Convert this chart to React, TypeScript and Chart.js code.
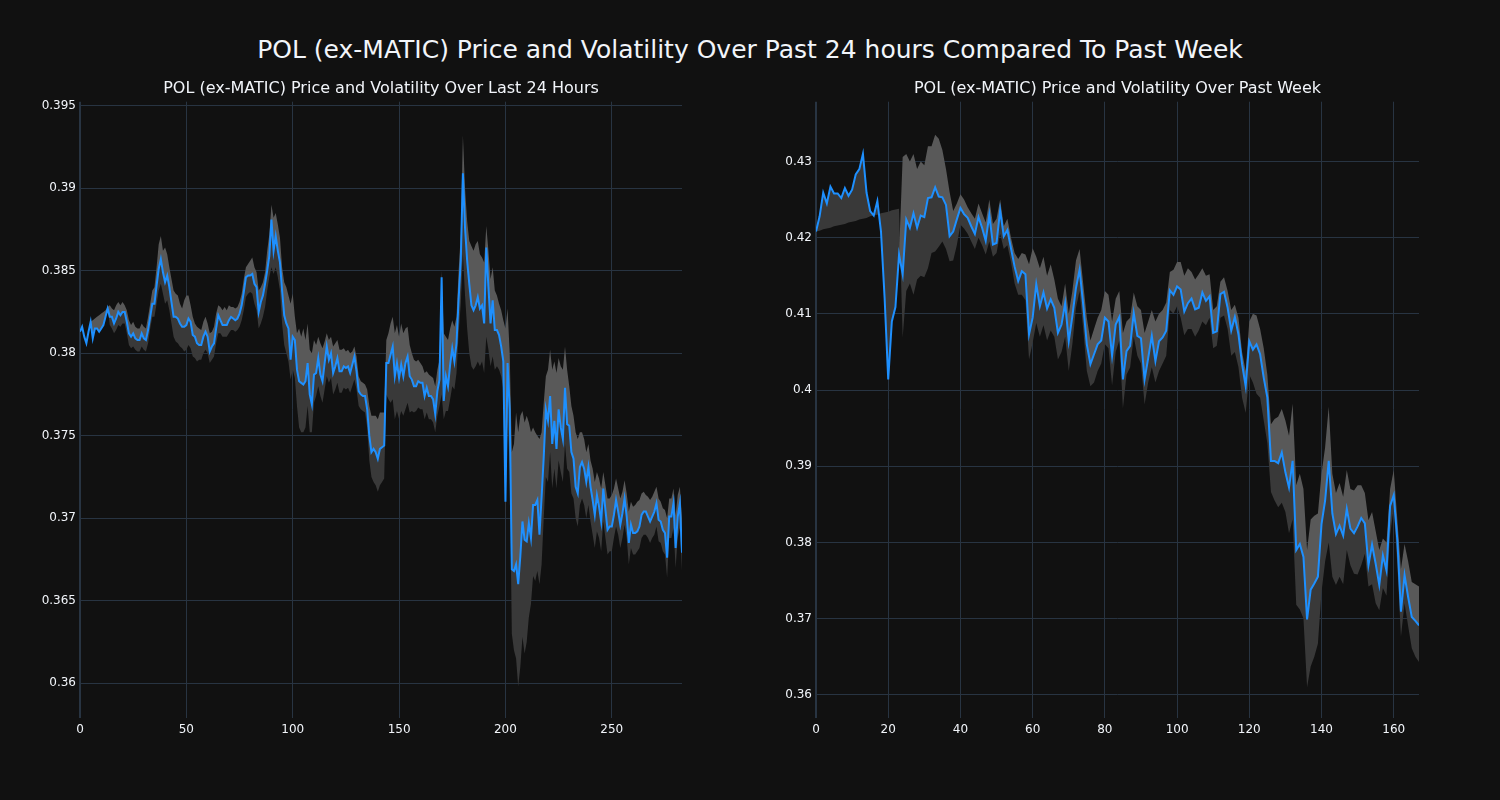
import { useEffect, useRef } from 'react';
import { Chart, registerables } from 'chart.js';
Chart.register(...registerables);

const FONT = '"DejaVu Sans", sans-serif';
const BG = '#111111';
const GRID = '#283442';
const TEXT = '#f2f5fa';
const LINE = '#1e90ff';
const FILL_UP = '#595959';
const FILL_DOWN = '#393939';

const mainTitle = 'POL (ex-MATIC) Price and Volatility Over Past 24 hours Compared To Past Week';
const title24 = 'POL (ex-MATIC) Price and Volatility Over Last 24 Hours';
const titleWeek = 'POL (ex-MATIC) Price and Volatility Over Past Week';

const price24 = [
  0.3813,0.3816,0.3810,0.3806,0.3813,0.3819,0.3809,0.3815,0.3815,0.3813,
  0.3815,0.3817,0.3822,0.3827,0.3822,0.3822,0.3818,0.3821,0.3825,0.3823,
  0.3825,0.3825,0.3819,0.3812,0.3810,0.3812,0.3809,0.3808,0.3808,0.3812,
  0.3809,0.3808,0.3814,0.3822,0.3830,0.3830,0.3841,0.3851,0.3857,0.3849,
  0.3843,0.3847,0.3840,0.3831,0.3822,0.3822,0.3821,0.3818,0.3816,0.3816,
  0.3817,0.3821,0.3819,0.3811,0.3810,0.3806,0.3805,0.3805,0.3810,0.3813,
  0.3810,0.3801,0.3804,0.3806,0.3815,0.3823,0.3820,0.3817,0.3817,0.3817,
  0.3820,0.3822,0.3821,0.3820,0.3821,0.3824,0.3829,0.3837,0.3846,0.3847,
  0.3847,0.3848,0.3842,0.3840,0.3825,0.3831,0.3835,0.3842,0.3850,0.3859,
  0.3881,0.3862,0.3871,0.3862,0.3855,0.3838,0.3823,0.3818,0.3815,0.3796,
  0.3810,0.3808,0.3790,0.3783,0.3782,0.3781,0.3783,0.3794,0.3775,0.3769,
  0.3787,0.3788,0.3797,0.3787,0.3783,0.3794,0.3804,0.3796,0.3800,0.3788,
  0.3792,0.3797,0.3789,0.3789,0.3792,0.3791,0.3792,0.3788,0.3793,0.3798,
  0.3789,0.3777,0.3775,0.3774,0.3774,0.3766,0.3750,0.3740,0.3742,0.3740,
  0.3736,0.3742,0.3743,0.3744,0.3794,0.3794,0.3799,0.3804,0.3786,0.3794,
  0.3785,0.3793,0.3786,0.3794,0.3798,0.3786,0.3784,0.3780,0.3780,0.3783,
  0.3782,0.3782,0.3774,0.3779,0.3774,0.3774,0.3772,0.3763,0.3777,0.3784,
  0.3846,0.3771,0.3786,0.3780,0.3793,0.3803,0.3795,0.3806,0.3833,0.3856,
  0.3909,0.3876,0.3856,0.3842,0.3829,0.3826,0.3829,0.3834,0.3827,0.3829,
  0.3818,0.3864,0.3840,0.3818,0.3832,0.3814,0.3814,0.3811,0.3804,0.3795,
  0.3710,0.3794,0.3766,0.3669,0.3668,0.3672,0.3660,0.3677,0.3698,0.3687,
  0.3686,0.3697,0.3688,0.3708,0.3708,0.3711,0.3690,0.3713,0.3737,0.3766,
  0.3759,0.3774,0.3745,0.3759,0.3742,0.3766,0.3755,0.3748,0.3779,0.3757,
  0.3756,0.3740,0.3736,0.3719,0.3715,0.3731,0.3734,0.3730,0.3722,0.3731,
  0.3719,0.3711,0.3702,0.3714,0.3707,0.3698,0.3718,0.3705,0.3693,0.3695,
  0.3695,0.3702,0.3711,0.3704,0.3696,0.3703,0.3712,0.3701,0.3685,0.3696,
  0.3691,0.3691,0.3692,0.3695,0.3702,0.3704,0.3704,0.3701,0.3698,0.3701,
  0.3704,0.3709,0.3699,0.3698,0.3693,0.3691,0.3676,0.3701,0.3701,0.3709,
  0.3682,0.3701,0.3709,0.3679,
];

const upper24 = [
  0.3813,0.3816,0.3810,0.3806,0.3813,0.3819,0.3820,0.3821,0.3822,0.3823,
  0.3824,0.3825,0.3826,0.3828,0.3829,0.3827,0.3826,0.3829,0.3831,0.3829,
  0.3831,0.3829,0.3826,0.3820,0.3817,0.3819,0.3816,0.3815,0.3815,0.3818,
  0.3816,0.3815,0.3822,0.3830,0.3838,0.3840,0.3852,0.3866,0.3871,0.3862,
  0.3864,0.3860,0.3852,0.3845,0.3838,0.3836,0.3835,0.3830,0.3827,0.3832,
  0.3835,0.3835,0.3829,0.3822,0.3818,0.3816,0.3815,0.3814,0.3819,0.3822,
  0.3818,0.3812,0.3813,0.3816,0.3824,0.3829,0.3828,0.3826,0.3828,0.3826,
  0.3829,0.3828,0.3828,0.3827,0.3828,0.3831,0.3836,0.3845,0.3852,0.3854,
  0.3856,0.3858,0.3852,0.3849,0.3838,0.3840,0.3843,0.3849,0.3862,0.3872,
  0.3890,0.3882,0.3885,0.3878,0.3870,0.3852,0.3843,0.3840,0.3835,0.3830,
  0.3836,0.3822,0.3812,0.3815,0.3810,0.3815,0.3808,0.3818,0.3802,0.3800,
  0.3808,0.3805,0.3810,0.3806,0.3803,0.3807,0.3812,0.3808,0.3810,0.3804,
  0.3806,0.3808,0.3802,0.3802,0.3803,0.3801,0.3802,0.3800,0.3801,0.3804,
  0.3798,0.3786,0.3783,0.3782,0.3781,0.3778,0.3768,0.3762,0.3762,0.3762,
  0.3760,0.3764,0.3764,0.3764,0.3808,0.3812,0.3818,0.3822,0.3812,0.3817,
  0.3810,0.3818,0.3812,0.3815,0.3816,0.3805,0.3800,0.3796,0.3795,0.3796,
  0.3794,0.3792,0.3788,0.3789,0.3787,0.3786,0.3785,0.3780,0.3790,0.3796,
  0.3850,0.3812,0.3810,0.3808,0.3815,0.3820,0.3816,0.3822,0.3850,0.3872,
  0.3932,0.3900,0.3880,0.3868,0.3865,0.3862,0.3866,0.3868,0.3860,0.3858,
  0.3855,0.3877,0.3862,0.3845,0.3852,0.3838,0.3835,0.3830,0.3826,0.3820,
  0.3815,0.3827,0.3800,0.3740,0.3745,0.3764,0.3752,0.3762,0.3765,0.3758,
  0.3762,0.3758,0.3752,0.3755,0.3752,0.3750,0.3748,0.3752,0.3770,0.3786,
  0.3790,0.3802,0.3790,0.3795,0.3788,0.3797,0.3792,0.3790,0.3804,0.3790,
  0.3780,0.3768,0.3762,0.3752,0.3748,0.3752,0.3752,0.3748,0.3740,0.3745,
  0.3735,0.3730,0.3722,0.3728,0.3724,0.3718,0.3728,0.3720,0.3712,0.3712,
  0.3714,0.3718,0.3724,0.3718,0.3712,0.3716,0.3723,0.3715,0.3704,0.3710,
  0.3707,0.3708,0.3710,0.3711,0.3715,0.3716,0.3714,0.3713,0.3711,0.3713,
  0.3716,0.3719,0.3712,0.3710,0.3706,0.3705,0.3700,0.3712,0.3712,0.3718,
  0.3702,0.3714,0.3719,0.3700,
];

const lower24 = [
  0.3813,0.3816,0.3810,0.3806,0.3813,0.3819,0.3809,0.3815,0.3815,0.3813,
  0.3815,0.3817,0.3822,0.3827,0.3817,0.3815,0.3812,0.3814,0.3817,0.3816,
  0.3818,0.3818,0.3812,0.3805,0.3803,0.3804,0.3802,0.3801,0.3801,0.3804,
  0.3802,0.3801,0.3806,0.3815,0.3822,0.3822,0.3830,0.3838,0.3842,0.3836,
  0.3830,0.3832,0.3826,0.3818,0.3810,0.3807,0.3806,0.3804,0.3803,0.3801,
  0.3802,0.3805,0.3803,0.3798,0.3797,0.3795,0.3796,0.3796,0.3800,0.3802,
  0.3800,0.3794,0.3796,0.3798,0.3806,0.3812,0.3812,0.3810,0.3810,0.3810,
  0.3812,0.3814,0.3814,0.3813,0.3814,0.3816,0.3820,0.3826,0.3834,0.3836,
  0.3837,0.3836,0.3830,0.3826,0.3815,0.3818,0.3822,0.3828,0.3838,0.3846,
  0.3852,0.3848,0.3852,0.3846,0.3838,0.3818,0.3805,0.3800,0.3795,0.3784,
  0.3790,0.3785,0.3768,0.3755,0.3752,0.3752,0.3755,0.3768,0.3752,0.3752,
  0.3770,0.3774,0.3780,0.3774,0.3770,0.3778,0.3786,0.3782,0.3785,0.3775,
  0.3778,0.3782,0.3776,0.3776,0.3779,0.3778,0.3779,0.3776,0.3780,0.3784,
  0.3778,0.3768,0.3766,0.3765,0.3764,0.3755,0.3735,0.3725,0.3722,0.3720,
  0.3716,0.3720,0.3722,0.3724,0.3775,0.3772,0.3770,0.3772,0.3760,0.3765,
  0.3760,0.3765,0.3762,0.3766,0.3770,0.3764,0.3765,0.3764,0.3765,0.3767,
  0.3766,0.3766,0.3760,0.3764,0.3760,0.3760,0.3758,0.3752,0.3762,0.3768,
  0.3775,0.3760,0.3765,0.3765,0.3772,0.3780,0.3778,0.3788,0.3812,0.3830,
  0.3860,0.3835,0.3815,0.3800,0.3792,0.3790,0.3792,0.3795,0.3792,0.3795,
  0.3788,0.3810,0.3802,0.3792,0.3798,0.3790,0.3792,0.3790,0.3786,0.3778,
  0.3700,0.3760,0.3730,0.3630,0.3620,0.3615,0.3598,0.3610,0.3628,0.3618,
  0.3625,0.3640,0.3648,0.3665,0.3662,0.3668,0.3660,0.3672,0.3700,0.3725,
  0.3722,0.3740,0.3718,0.3730,0.3718,0.3735,0.3728,0.3722,0.3745,0.3730,
  0.3728,0.3715,0.3712,0.3700,0.3695,0.3708,0.3712,0.3708,0.3700,0.3708,
  0.3698,0.3690,0.3682,0.3692,0.3688,0.3680,0.3698,0.3688,0.3678,0.3680,
  0.3680,0.3688,0.3695,0.3690,0.3682,0.3688,0.3696,0.3688,0.3672,0.3682,
  0.3678,0.3678,0.3680,0.3682,0.3688,0.3690,0.3690,0.3688,0.3685,0.3688,
  0.3690,0.3695,0.3686,0.3685,0.3680,0.3678,0.3664,0.3688,0.3688,0.3694,
  0.3670,0.3688,0.3694,0.3668,
];

const priceWeek = [
  0.4208,0.4228,0.4259,0.4245,0.4267,0.4258,0.4258,0.4252,0.4265,0.4255,
  0.4263,0.4283,0.4290,0.4310,0.4259,0.4235,0.4229,0.4248,0.4208,0.4121,
  0.4014,0.4090,0.4109,0.4178,0.4152,0.4224,0.4213,0.4232,0.4213,0.4229,
  0.4227,0.4252,0.4253,0.4266,0.4254,0.4253,0.4243,0.4202,0.4208,0.4224,
  0.4239,0.4231,0.4226,0.4215,0.4205,0.4227,0.4213,0.4196,0.4230,0.4191,
  0.4193,0.4236,0.4202,0.4210,0.4186,0.4162,0.4143,0.4156,0.4152,0.4073,
  0.4095,0.4139,0.4110,0.4128,0.4107,0.4119,0.4108,0.4075,0.4086,0.4114,
  0.4064,0.4097,0.4134,0.4158,0.4112,0.4060,0.4034,0.4047,0.4060,0.4065,
  0.4095,0.4090,0.4045,0.4086,0.4096,0.4014,0.4051,0.4058,0.4101,0.4071,
  0.4068,0.4014,0.4042,0.4071,0.4038,0.4064,0.4069,0.4078,0.4131,0.4125,
  0.4136,0.4132,0.4103,0.4114,0.4120,0.4106,0.4108,0.4128,0.4117,0.4123,
  0.4075,0.4077,0.4126,0.4129,0.4108,0.4078,0.4096,0.4073,0.4034,0.4005,
  0.4064,0.4053,0.4060,0.4047,0.4016,0.3990,0.3907,0.3907,0.3904,0.3918,
  0.3892,0.3872,0.3907,0.3790,0.3798,0.3781,0.3699,0.3738,0.3746,0.3755,
  0.3824,0.3855,0.3907,0.3838,0.3811,0.3822,0.3809,0.3844,0.3818,0.3812,
  0.3821,0.3832,0.3825,0.3770,0.3797,0.3772,0.3744,0.3783,0.3763,0.3848,
  0.3862,0.3803,0.3709,0.3757,0.3728,0.3702,0.3697,0.3691,
];

const upperWeek = [
  0.4208,0.4228,0.4259,0.4245,0.4267,0.4258,0.4258,0.4252,0.4265,0.4255,
  0.4263,0.4283,0.4290,0.4310,0.4259,0.4235,0.4229,0.4248,0.4208,0.4121,
  0.4014,0.4090,0.4109,0.4178,0.4306,0.4310,0.4300,0.4310,0.4290,0.4300,
  0.4295,0.4320,0.4320,0.4335,0.4330,0.4315,0.4290,0.4260,0.4235,0.4245,
  0.4257,0.4250,0.4240,0.4232,0.4225,0.4245,0.4232,0.4220,0.4250,0.4218,
  0.4225,0.4250,0.4215,0.4225,0.4200,0.4180,0.4172,0.4180,0.4178,0.4165,
  0.4186,0.4175,0.4160,0.4175,0.4150,0.4165,0.4145,0.4120,0.4110,0.4140,
  0.4100,0.4130,0.4170,0.4185,0.4140,0.4095,0.4065,0.4080,0.4095,0.4105,
  0.4130,0.4125,0.4090,0.4120,0.4130,0.4075,0.4090,0.4095,0.4128,0.4110,
  0.4105,0.4075,0.4090,0.4105,0.4090,0.4100,0.4105,0.4115,0.4155,0.4158,
  0.4168,0.4168,0.4150,0.4160,0.4155,0.4145,0.4152,0.4160,0.4150,0.4152,
  0.4105,0.4110,0.4142,0.4148,0.4130,0.4105,0.4112,0.4095,0.4050,0.4025,
  0.4090,0.4100,0.4098,0.4080,0.4055,0.4020,0.3955,0.3962,0.3965,0.3975,
  0.3960,0.3940,0.3982,0.3875,0.3890,0.3870,0.3790,0.3830,0.3835,0.3838,
  0.3890,0.3925,0.3978,0.3890,0.3865,0.3878,0.3860,0.3895,0.3870,0.3868,
  0.3875,0.3875,0.3865,0.3829,0.3840,0.3815,0.3790,0.3805,0.3800,0.3870,
  0.3895,0.3830,0.3765,0.3798,0.3775,0.3748,0.3745,0.3742,
];

const lowerWeek = [
  0.4208,0.4209,0.4211,0.4212,0.4213,0.4215,0.4216,0.4217,0.4218,0.4220,
  0.4221,0.4222,0.4224,0.4225,0.4226,0.4228,0.4229,0.4230,0.4232,0.4233,
  0.4234,0.4236,0.4237,0.4238,0.4069,0.4130,0.4140,0.4125,0.4145,0.4150,
  0.4148,0.4160,0.4180,0.4182,0.4188,0.4195,0.4185,0.4169,0.4170,0.4190,
  0.4217,0.4212,0.4205,0.4195,0.4185,0.4200,0.4190,0.4178,0.4195,0.4175,
  0.4180,0.4205,0.4185,0.4190,0.4168,0.4140,0.4125,0.4125,0.4118,0.4040,
  0.4062,0.4088,0.4070,0.4085,0.4065,0.4078,0.4070,0.4040,0.4050,0.4070,
  0.4025,0.4060,0.4108,0.4130,0.4080,0.4025,0.4005,0.4010,0.4025,0.4035,
  0.4060,0.4055,0.4006,0.4050,0.4065,0.3976,0.4020,0.4030,0.4070,0.4045,
  0.4035,0.3981,0.4010,0.4030,0.4010,0.4025,0.4035,0.4045,0.4105,0.4100,
  0.4110,0.4095,0.4072,0.4080,0.4080,0.4070,0.4078,0.4090,0.4085,0.4095,
  0.4055,0.4058,0.4095,0.4098,0.4080,0.4045,0.4050,0.4030,0.3990,0.3970,
  0.4020,0.4010,0.3995,0.3990,0.3960,0.3930,0.3866,0.3855,0.3846,0.3852,
  0.3840,0.3812,0.3830,0.3718,0.3712,0.3700,0.3610,0.3637,0.3650,0.3667,
  0.3735,0.3775,0.3800,0.3755,0.3744,0.3755,0.3745,0.3790,0.3770,0.3759,
  0.3758,0.3770,0.3785,0.3742,0.3745,0.3720,0.3711,0.3740,0.3730,0.3810,
  0.3845,0.3770,0.3676,0.3720,0.3690,0.3661,0.3650,0.3643,
];

const xTicks24 = [0, 50, 100, 150, 200, 250];
const yTicks24 = [0.36, 0.365, 0.37, 0.375, 0.38, 0.385, 0.39, 0.395];
const yLabels24 = ['0.36', '0.365', '0.37', '0.375', '0.38', '0.385', '0.39', '0.395'];
const yRange24 = [0.35789, 0.39524];

const xTicksWeek = [0, 20, 40, 60, 80, 100, 120, 140, 160];
const yTicksWeek = [0.36, 0.37, 0.38, 0.39, 0.4, 0.41, 0.42, 0.43];
const yLabelsWeek = ['0.36', '0.37', '0.38', '0.39', '0.4', '0.41', '0.42', '0.43'];
const yRangeWeek = [0.35695, 0.43785];

type Spec = {
  title: string;
  price: number[];
  upper: number[];
  lower: number[];
  xTicks: number[];
  yTicks: number[];
  yLabels: string[];
  yRange: number[];
  axisWidth: number;
  padRight: number;
};

function buildConfig(s: Spec): any {
  const pts = (arr: number[]) => arr.map((v, i) => ({ x: i, y: v }));
  return {
    type: 'line',
    data: {
      datasets: [
        { label: 'price', data: pts(s.price), borderColor: LINE, borderWidth: 2, pointRadius: 0, tension: 0, fill: false },
        { label: 'upper', data: pts(s.upper), borderWidth: 0, borderColor: 'rgba(0,0,0,0)', pointRadius: 0, tension: 0, fill: 0, backgroundColor: FILL_UP },
        { label: 'lower', data: pts(s.lower), borderWidth: 0, borderColor: 'rgba(0,0,0,0)', pointRadius: 0, tension: 0, fill: 0, backgroundColor: FILL_DOWN },
      ],
    },
    options: {
      animation: false,
      responsive: false,
      maintainAspectRatio: false,
      events: [],
      layout: { padding: { left: 0, right: s.padRight, top: 0, bottom: 0 } },
      plugins: {
        legend: { display: false },
        tooltip: { enabled: false },
        title: {
          display: true,
          text: s.title,
          color: TEXT,
          fullSize: false,
          font: { family: FONT, size: 16, weight: 'normal', lineHeight: 1.2 },
          padding: { top: 79, bottom: 3.5 },
        },
      },
      scales: {
        x: {
          type: 'linear',
          min: 0,
          max: s.price.length - 1,
          afterBuildTicks: (sc: any) => { sc.ticks = s.xTicks.map((v) => ({ value: v })); },
          afterFit: (sc: any) => { sc.height = 82; },
          ticks: { color: TEXT, font: { family: FONT, size: 12 }, padding: 5, maxRotation: 0, autoSkip: false, callback: (v: any) => String(v) },
          grid: { color: GRID, drawTicks: false, lineWidth: (c: any) => (c.tick && c.tick.value === 0 ? 2 : 1) },
          border: { display: false },
        },
        y: {
          type: 'linear',
          min: s.yRange[0],
          max: s.yRange[1],
          afterBuildTicks: (sc: any) => { sc.ticks = s.yTicks.map((v) => ({ value: v })); },
          afterFit: (sc: any) => { sc.width = s.axisWidth; },
          ticks: {
            color: TEXT,
            font: { family: FONT, size: 12 },
            padding: 4,
            autoSkip: false,
            callback: (v: any) => {
              const k = s.yTicks.findIndex((t) => Math.abs(t - v) < 1e-9);
              return k >= 0 ? s.yLabels[k] : '';
            },
          },
          grid: { color: GRID, drawTicks: false, lineWidth: 1 },
          border: { display: false },
        },
      },
    },
  };
}

function Panel({ spec, left }: { spec: Spec; left: number }) {
  const ref = useRef<HTMLCanvasElement | null>(null);
  useEffect(() => {
    if (!ref.current) return;
    const chart = new Chart(ref.current, buildConfig(spec));
    return () => chart.destroy();
  }, []);
  return (
    <canvas
      ref={ref}
      width={750}
      height={800}
      style={{ position: 'absolute', left, top: 0, width: 750, height: 800 }}
    />
  );
}

export default function App() {
  const spec24: Spec = {
    title: title24, price: price24, upper: upper24, lower: lower24,
    xTicks: xTicks24, yTicks: yTicks24, yLabels: yLabels24, yRange: yRange24,
    axisWidth: 80, padRight: 68,
  };
  const specWeek: Spec = {
    title: titleWeek, price: priceWeek, upper: upperWeek, lower: lowerWeek,
    xTicks: xTicksWeek, yTicks: yTicksWeek, yLabels: yLabelsWeek, yRange: yRangeWeek,
    axisWidth: 66, padRight: 81,
  };
  return (
    <div style={{ position: 'absolute', left: 0, top: 0, width: 1500, height: 800, background: BG, overflow: 'hidden' }}>
      <div
        style={{
          position: 'absolute', left: 0, top: 34, width: 1500, height: 32, lineHeight: '32px',
          textAlign: 'center', color: TEXT, fontFamily: FONT, fontSize: 25, whiteSpace: 'nowrap',
        }}
      >
        {mainTitle}
      </div>
      <Panel spec={spec24} left={0} />
      <Panel spec={specWeek} left={750} />
    </div>
  );
}
